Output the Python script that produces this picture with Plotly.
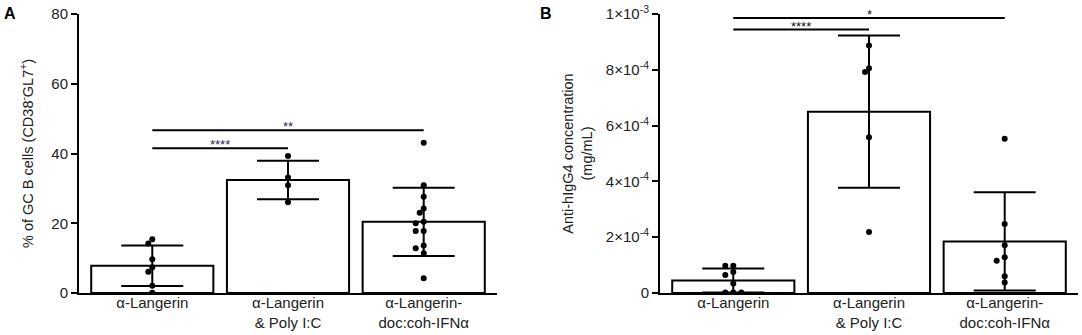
import plotly.graph_objects as go

# ---------------- data ----------------
categories = ["α-Langerin", "α-Langerin<br>& Poly I:C", "α-Langerin-<br>doc:coh-IFNα"]

# Panel A: % of GC B cells
a_points_1 = [15.4, 14.2, 9.65, 7.36, 6.1, 2.1, 0.1]
a_points_2 = [39.3, 33.1, 30.9, 26.0]
a_points_3 = [43.1, 30.9, 27.6, 24.2, 23.0, 20.4, 20.0, 17.8, 17.8, 13.6, 12.8, 11.4, 4.2]
a_means = [7.8, 32.4, 20.4]
a_sd = [5.8, 5.5, 9.8]
a_ticks = [0, 20, 40, 60, 80]
a_sig = [(0, 1, 41.5, "****"), (0, 2, 46.7, "**")]

# Panel B: anti-hIgG4 concentration (mg/mL)
b_points_1 = [9.8e-5, 9.8e-5, 7.5e-5, 6.45e-5, 3.4e-5, 0.2e-5, 0.2e-5, 0.2e-5]
b_points_2 = [8.87e-4, 8.06e-4, 7.92e-4, 5.58e-4, 2.19e-4]
b_points_3 = [5.53e-4, 2.47e-4, 1.71e-4, 1.28e-4, 1.16e-4, 0.6e-4, 0.38e-4]
b_means = [4.5e-5, 6.5e-4, 1.85e-4]
b_sd = [4.3e-5, 2.73e-4, 1.76e-4]
b_tickvals = [0, 2e-4, 4e-4, 6e-4, 8e-4, 1e-3]
b_ticktext = ["0", "2×10<sup>-4</sup>", "4×10<sup>-4</sup>", "6×10<sup>-4</sup>",
              "8×10<sup>-4</sup>", "1×10<sup>-3</sup>"]
b_sig = [(0, 1, 0.944e-3, "****"), (0, 2, 0.986e-3, "*")]

# ---------------- layout constants ----------------
W, H = 1082, 335
MT, MB = 14, 42
PLOT_H = H - MT - MB
X_RANGE = [-0.54, 2.54]
DOM_A = [79 / W, 497 / W]
DOM_B = [660 / W, 1078 / W]
FONT = "Arial, 'Liberation Sans', sans-serif"


def swarm(values, y_px_per_unit, x_px_per_unit, step=4.0, dist=5.5):
    """Simple beeswarm: returns x offsets (data units) for dot plot."""
    order = sorted(range(len(values)), key=lambda i: -values[i])
    placed = []
    offs = [0.0] * len(values)
    slots = [0, -1, 1, -2, 2, -3, 3]
    for i in order:
        y = values[i] * y_px_per_unit
        for s in slots:
            x = s * step
            if all(((x - px) ** 2 + (y - py) ** 2) ** 0.5 >= dist for px, py in placed):
                placed.append((x, y))
                offs[i] = x / x_px_per_unit
                break
    return offs


def add_panel(fig, groups, means, sds, ymax, xref, yref, dom):
    xpx = (dom[1] - dom[0]) * W / (X_RANGE[1] - X_RANGE[0])
    ypx = PLOT_H / ymax
    fig.add_trace(go.Bar(
        x=[0, 1, 2], y=means, width=0.9,
        marker=dict(color="white", line=dict(color="black", width=2)),
        error_y=dict(type="data", array=sds, visible=True, color="black",
                     thickness=2, width=31),
        xaxis=xref, yaxis=yref, showlegend=False, hoverinfo="skip"))
    for gi, pts in enumerate(groups):
        offs = swarm(pts, ypx, xpx)
        fig.add_trace(go.Scatter(
            x=[gi + o for o in offs], y=pts, mode="markers",
            marker=dict(color="black", size=6),
            xaxis=xref, yaxis=yref, showlegend=False, hoverinfo="skip"))


fig = go.Figure()
add_panel(fig, [a_points_1, a_points_2, a_points_3], a_means, a_sd, 80, "x", "y", DOM_A)
add_panel(fig, [b_points_1, b_points_2, b_points_3], b_means, b_sd, 1e-3, "x2", "y2", DOM_B)

shapes = []
annotations = []
for sig, xr, yr, col in [(a_sig, "x", "y", "#2a2a5c"), (b_sig, "x2", "y2", "#111111")]:
    for (i0, i1, yv, lab) in sig:
        shapes.append(dict(type="line", xref=xr, yref=yr, x0=i0, x1=i1, y0=yv, y1=yv,
                           line=dict(color="black", width=2)))
        annotations.append(dict(xref=xr, yref=yr, x=(i0 + i1) / 2, y=yv, text=lab,
                                showarrow=False, yanchor="bottom", yshift=-6,
                                font=dict(size=13, color=col, family=FONT)))

annotations.append(dict(xref="paper", yref="paper", x=2 / W, y=1 - (13 - MT) / PLOT_H,
                        xanchor="left", yanchor="middle", text="<b>A</b>", showarrow=False,
                        font=dict(size=16, color="black", family=FONT)))
annotations.append(dict(xref="paper", yref="paper", x=538 / W, y=1 - (13 - MT) / PLOT_H,
                        xanchor="left", yanchor="middle", text="<b>B</b>", showarrow=False,
                        font=dict(size=16, color="black", family=FONT)))

xaxis_common = dict(range=X_RANGE, tickvals=[0, 1, 2], ticktext=categories,
                    showline=True, linecolor="black", linewidth=2, ticks="",
                    showgrid=False, zeroline=False, automargin=False,
                    ticklabelstandoff=-5,
                    tickfont=dict(size=15, color="#222"))
yaxis_common = dict(showline=True, linecolor="black", linewidth=2, ticks="outside",
                    ticklen=6, tickwidth=2, tickcolor="black", showgrid=False,
                    zeroline=False, automargin=False, tickfont=dict(size=15, color="#222"))

fig.update_layout(
    width=W, height=H,
    margin=dict(l=0, r=0, t=MT, b=MB),
    paper_bgcolor="white", plot_bgcolor="white",
    font=dict(family=FONT, color="#222"),
    xaxis=dict(domain=DOM_A, anchor="y", **xaxis_common),
    xaxis2=dict(domain=DOM_B, anchor="y2", **xaxis_common),
    yaxis=dict(domain=[0, 1], anchor="x", range=[0, 80], tickvals=a_ticks,
               title=dict(text="% of GC B cells (CD38<sup>-</sup>GL7<sup>+</sup>)",
                          font=dict(size=14.5, color="#222"), standoff=14),
               **yaxis_common),
    yaxis2=dict(domain=[0, 1], anchor="x2", range=[0, 1e-3], tickvals=b_tickvals,
                ticktext=b_ticktext,
                title=dict(text="Anti-hIgG4 concentration<br>(mg/mL)",
                           font=dict(size=14.5, color="#222"), standoff=10),
                **yaxis_common),
    shapes=shapes,
    annotations=annotations,
)

fig.write_html("out.html", config={"displayModeBar": False},
               post_script="document.body.style.margin='0';document.body.style.padding='0';")
